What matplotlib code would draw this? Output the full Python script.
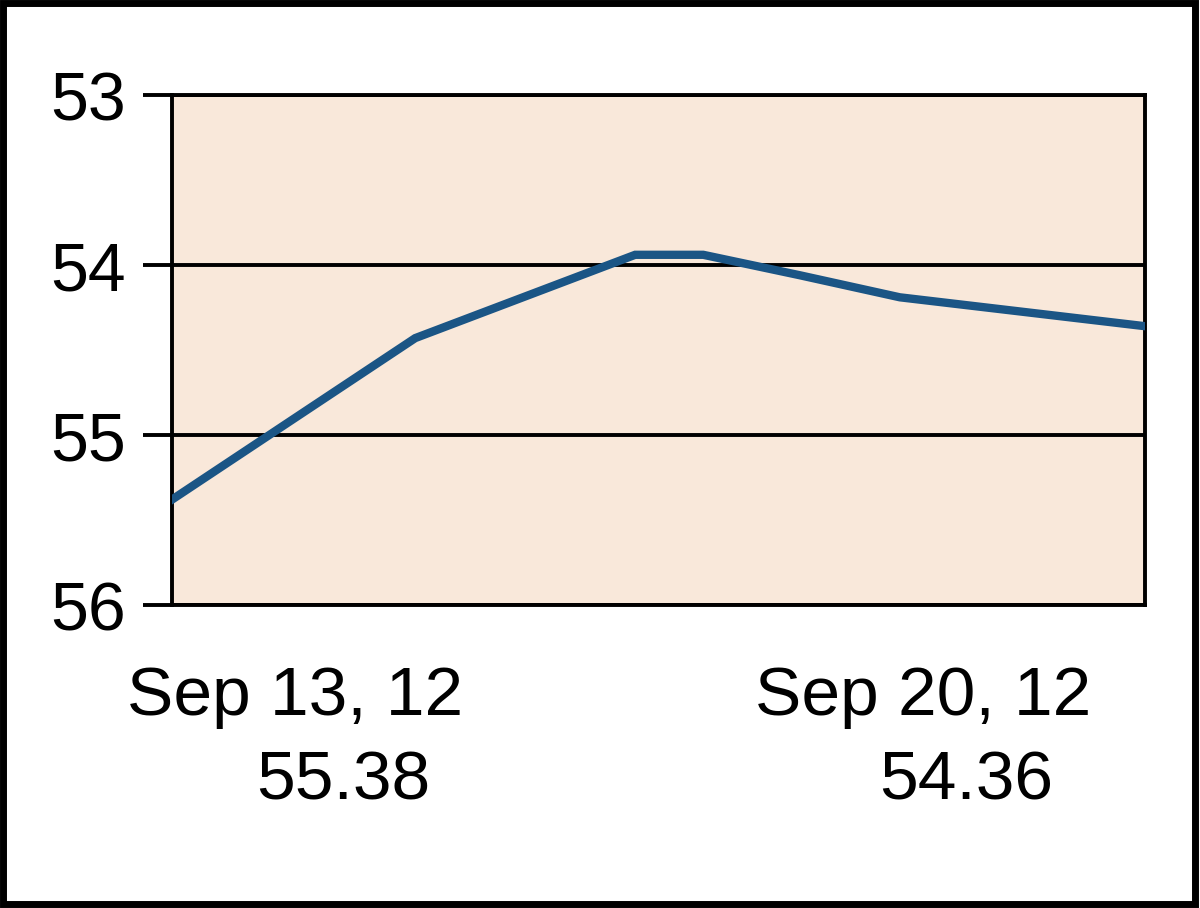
import matplotlib
matplotlib.use("Agg")
import matplotlib.pyplot as plt
from matplotlib.patches import Rectangle

# data (x as fraction of the Sep 13 -> Sep 20 period)
x_pos = [0.0, 0.25, 0.476, 0.546, 0.645, 0.748, 1.0]
prices = [55.38, 54.43, 53.94, 53.94, 54.06, 54.19, 54.36]
y_ticks = [53, 54, 55, 56]
start_label = "Sep 13, 12"
end_label = "Sep 20, 12"
start_value = "55.38"
end_value = "54.36"

W, H = 1200, 908
fig = plt.figure(figsize=(W / 100, H / 100), dpi=100)
fig.patch.set_facecolor("white")

ax = fig.add_axes([172 / W, 1 - 605 / H, (1145 - 172) / W, (605 - 95) / H])
ax.set_facecolor("#F9E8DA")
ax.plot(x_pos, prices, color="#1B5585", lw=6, solid_joinstyle="miter", zorder=3)
ax.set_xlim(0, 1)
ax.set_ylim(56, 53)
ax.set_yticks(y_ticks)
ax.set_yticklabels([str(v) for v in y_ticks], fontfamily="Liberation Sans", fontsize=49)
ax.set_xticks([])
ax.tick_params(axis="y", length=21, width=2.8, pad=12, color="black")
for s in ax.spines.values():
    s.set_linewidth(2.8)
    s.set_color("black")
ax.yaxis.grid(True, color="black", lw=2.8)
ax.set_axisbelow(True)

font = dict(fontfamily="Liberation Sans", fontsize=50, color="black")
fig.text(295 / W, 1 - 697 / H, start_label, ha="center", va="center", **font)
fig.text(343 / W, 1 - 781 / H, start_value, ha="center", va="center", **font)
fig.text(923 / W, 1 - 697 / H, end_label, ha="center", va="center", **font)
fig.text(966 / W, 1 - 781 / H, end_value, ha="center", va="center", **font)

fig.patches.append(Rectangle((3 / W, 4 / H), (W - 8) / W, (H - 7) / H,
                             transform=fig.transFigure, fill=False,
                             edgecolor="black", lw=5))

fig.savefig("out.png", dpi=100)
